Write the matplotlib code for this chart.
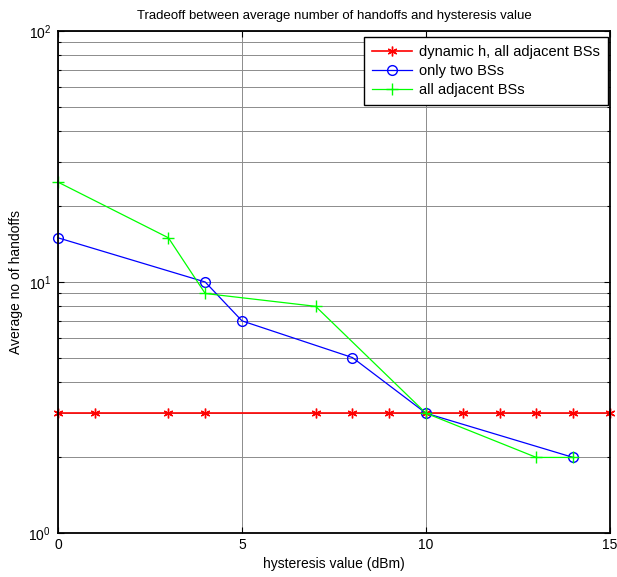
import matplotlib
matplotlib.use('Agg')
import matplotlib.pyplot as plt
from matplotlib.ticker import LogLocator, NullFormatter

plt.rcParams['font.family'] = ['Liberation Sans', 'DejaVu Sans']
plt.rcParams['mathtext.fontset'] = 'custom'
plt.rcParams['mathtext.rm'] = 'Liberation Sans'

# data
x_dyn = [0, 1, 3, 4, 7, 8, 9, 10, 11, 12, 13, 14, 15]
y_dyn = [3, 3, 3, 3, 3, 3, 3, 3, 3, 3, 3, 3, 3]

x_two = [0, 4, 5, 8, 10, 14]
y_two = [15, 10, 7, 5, 3, 2]

x_all = [0, 3, 4, 7, 10, 13, 14]
y_all = [25, 15, 9, 8, 3, 2, 2]

fig = plt.figure(figsize=(6.17, 5.77), dpi=100)
ax = fig.add_axes([58 / 617, 1 - 533 / 577, 552 / 617, 502 / 577])

ax.plot(x_dyn, y_dyn, color='red', marker=(6, 2, 0), markersize=7,
        linewidth=1.2, label='dynamic h, all adjacent BSs', clip_on=False)
ax.plot(x_two, y_two, color='blue', marker='o', markersize=7,
        markerfacecolor='none', linewidth=0.9, label='only two BSs', clip_on=False)
ax.plot(x_all, y_all, color='#00ff00', marker='+', markersize=8,
        linewidth=0.9, label='all adjacent BSs', clip_on=False)

ax.set_yscale('log')
ax.set_xlim(0, 15)
ax.set_ylim(1, 100)
ax.set_xticks([0, 5, 10, 15])
ax.yaxis.set_minor_locator(LogLocator(base=10, subs=range(2, 10)))
ax.yaxis.set_minor_formatter(NullFormatter())

ax.grid(True, which='major', color='0.55', linewidth=0.7)
ax.grid(True, which='minor', axis='y', color='0.55', linewidth=0.7)
ax.set_axisbelow(True)

ax.tick_params(which='both', direction='in', top=True, right=True,
               labelsize=10, width=0.8)
ax.tick_params(which='major', length=4)
ax.tick_params(which='minor', length=2)
ax.tick_params(axis='y', pad=5)
for s in ax.spines.values():
    s.set_linewidth(1.3)

ax.set_title('Tradeoff between average number of handoffs and hysteresis value',
             fontsize=9.5, pad=9)
ax.set_xlabel('hysteresis value (dBm)', fontsize=10)
ax.set_ylabel('Average no of handoffs', fontsize=10)

leg = ax.legend(loc='upper right', bbox_to_anchor=(608 / 617, 1 - 37 / 577),
                bbox_transform=fig.transFigure, fontsize=10.5, fancybox=False,
                framealpha=1, edgecolor='black', borderpad=0.55,
                labelspacing=0.35, handlelength=2.7, handletextpad=0.5,
                borderaxespad=0)
leg.get_frame().set_linewidth(1.0)

fig.savefig('out.png', dpi=100)
